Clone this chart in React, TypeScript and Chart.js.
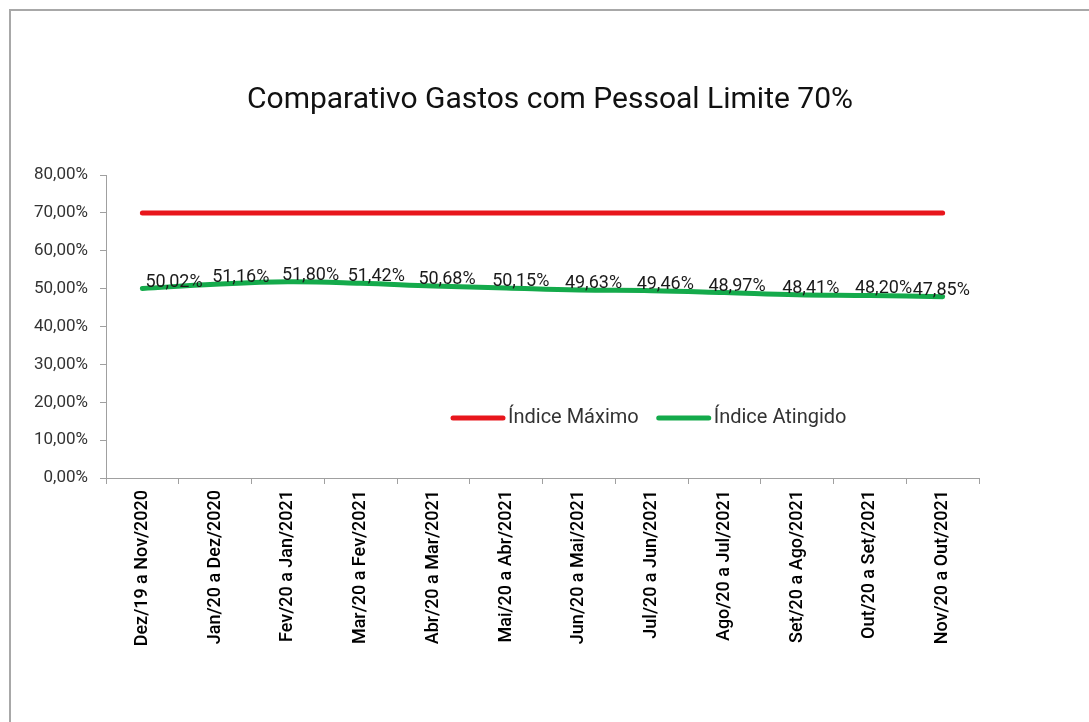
import React, { useEffect, useRef } from "react";
import { Chart, registerables } from "chart.js";

Chart.register(...registerables);

const categories = [
  "Dez/19 a Nov/2020",
  "Jan/20 a Dez/2020",
  "Fev/20 a Jan/2021",
  "Mar/20 a Fev/2021",
  "Abr/20 a Mar/2021",
  "Mai/20 a Abr/2021",
  "Jun/20 a Mai/2021",
  "Jul/20 a Jun/2021",
  "Ago/20 a Jul/2021",
  "Set/20 a Ago/2021",
  "Out/20 a Set/2021",
  "Nov/20 a Out/2021",
];

const indiceMaximo = [70, 70, 70, 70, 70, 70, 70, 70, 70, 70, 70, 70];
const indiceAtingido = [50.02, 51.16, 51.8, 51.42, 50.68, 50.15, 49.63, 49.46, 48.97, 48.41, 48.2, 47.85];

const yMin = 0;
const yMax = 80;
const yStep = 10;

const titleText = "Comparativo Gastos com Pessoal Limite 70%";
const seriesNames = ["Índice Máximo", "Índice Atingido"];

// horizontal offsets (px) of each data label's left edge relative to its point
const labelDx = [3, -3, -6, -13, -15, -14, -14, -15, -16, -15, -15, -30];

const FONT = 'Roboto, "Liberation Sans", Arial, sans-serif';
const RED = "rgb(232,22,28)";
const GREEN = "rgb(20,170,75)";

const fmt = (v: number) => v.toFixed(2).replace(".", ",") + "%";

const titlePlugin = {
  id: "customTitle",
  afterDraw(chart: any) {
    const ctx = chart.ctx;
    ctx.save();
    ctx.font = `30px ${FONT}`;
    ctx.fillStyle = "#111";
    ctx.textAlign = "center";
    ctx.textBaseline = "middle";
    ctx.fillText(titleText, 550, 100);
    ctx.restore();
  },
};

const dataLabelPlugin = {
  id: "dataLabels",
  afterDatasetsDraw(chart: any) {
    const ctx = chart.ctx;
    const meta = chart.getDatasetMeta(1);
    const data = chart.data.datasets[1].data as number[];
    ctx.save();
    ctx.font = `18px ${FONT}`;
    ctx.fillStyle = "#1a1a1a";
    ctx.textAlign = "left";
    ctx.textBaseline = "alphabetic";
    meta.data.forEach((pt: any, i: number) => {
      ctx.fillText(fmt(data[i]), pt.x + labelDx[i], pt.y - 2);
    });
    ctx.restore();
  },
};

const legendPlugin = {
  id: "insideLegend",
  afterDraw(chart: any) {
    const ctx = chart.ctx;
    const area = chart.chartArea;
    const y = area.top + 243;
    let x = area.left + 347;
    ctx.save();
    ctx.font = `20px ${FONT}`;
    ctx.textBaseline = "middle";
    ctx.textAlign = "left";
    chart.data.datasets.forEach((ds: any) => {
      ctx.strokeStyle = ds.borderColor;
      ctx.lineWidth = 5;
      ctx.lineCap = "round";
      ctx.beginPath();
      ctx.moveTo(x, y);
      ctx.lineTo(x + 50, y);
      ctx.stroke();
      ctx.fillStyle = "#333";
      ctx.fillText(ds.label, x + 55, y);
      x += 55 + ctx.measureText(ds.label).width + 20;
    });
    ctx.restore();
  },
};

export default function App() {
  const ref = useRef<HTMLCanvasElement | null>(null);

  useEffect(() => {
    if (!ref.current) return;
    const chart = new Chart(ref.current, {
      type: "line",
      data: {
        labels: categories,
        datasets: [
          {
            label: seriesNames[0],
            data: indiceMaximo,
            borderColor: RED,
            backgroundColor: RED,
            borderWidth: 5,
            borderCapStyle: "round",
            pointRadius: 0,
            tension: 0,
          },
          {
            label: seriesNames[1],
            data: indiceAtingido,
            borderColor: GREEN,
            backgroundColor: GREEN,
            borderWidth: 5,
            borderCapStyle: "round",
            pointRadius: 0,
            tension: 0.4,
          },
        ],
      },
      options: {
        responsive: false,
        animation: false,
        layout: { padding: { left: 0, top: 175, right: 110, bottom: 0 } },
        plugins: {
          legend: { display: false },
          title: { display: false },
          tooltip: { enabled: false },
        },
        scales: {
          x: {
            type: "category",
            offset: true,
            grid: {
              display: true,
              offset: true,
              drawOnChartArea: false,
              drawTicks: true,
              tickLength: 6,
              color: "#a0a0a0",
            },
            border: { display: true, color: "#a0a0a0", width: 1 },
            ticks: {
              autoSkip: false,
              maxRotation: 90,
              minRotation: 90,
              padding: 6,
              color: "#000",
              font: { family: FONT, size: 18, weight: "500" },
            },
            afterFit(scale: any) {
              scale.height = 244;
            },
          },
          y: {
            min: yMin,
            max: yMax,
            grid: {
              display: true,
              drawOnChartArea: false,
              drawTicks: true,
              tickLength: 6,
              color: "#a0a0a0",
            },
            border: { display: true, color: "#a0a0a0", width: 1 },
            ticks: {
              stepSize: yStep,
              padding: 12,
              color: "#333",
              font: { family: FONT, size: 17 },
              callback: (v: any) => fmt(Number(v)),
            },
            afterFit(scale: any) {
              scale.width = 106;
            },
          },
        },
      } as any,
      plugins: [titlePlugin, dataLabelPlugin, legendPlugin],
    });
    return () => chart.destroy();
  }, []);

  return (
    <div style={{ position: "absolute", left: 0, top: 0, width: 1089, height: 722, overflow: "hidden", background: "#fff" }}>
      <div
        style={{
          position: "absolute",
          left: 9,
          top: 9,
          width: 1080,
          height: 713,
          borderLeft: "2px solid #a8a8a8",
          borderTop: "2px solid #a8a8a8",
          boxSizing: "border-box",
        }}
      />
      <canvas ref={ref} width={1089} height={722} style={{ position: "absolute", left: 0, top: 0 }} />
    </div>
  );
}
